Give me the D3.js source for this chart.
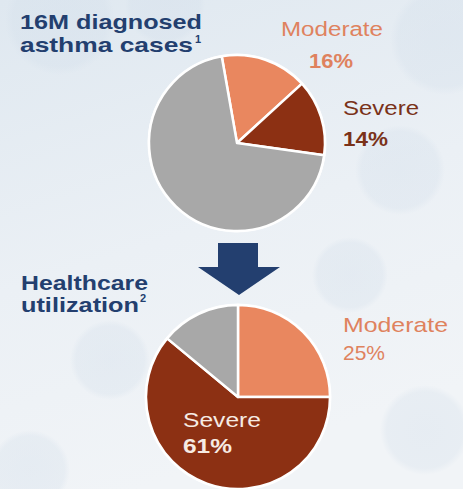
<!DOCTYPE html>
<html>
<head>
<meta charset="utf-8">
<script src="https://cdn.jsdelivr.net/npm/d3@7"></script>
<style>
  html, body { margin: 0; padding: 0; background: #eaf0f5; }
  #chart { width: 463px; height: 489px; overflow: hidden; }
  text { font-family: "Liberation Sans", Arial, sans-serif; }
</style>
</head>
<body>
<div id="chart"></div>
<script>
// severity groups, in the order they are drawn clockwise
const segments = ["Moderate", "Severe", "Mild"];
const diagnosedShares = [16, 14, 70];     // 16M diagnosed asthma cases
const utilizationShares = [25, 61, 14];   // healthcare utilization
const titleTop = ["16M diagnosed", "asthma cases"];
const titleBottom = ["Healthcare", "utilization"];

const width = 463,
  height = 489;

const color = d3.scaleOrdinal()
  .domain(segments)
  .range(["#e9875f", "#8c3013", "#a8a8a8"]);

const labelColor = d3.scaleOrdinal()
  .domain(segments)
  .range(["#df825e", "#7a3219", "#777"]);

const svg = d3.select("#chart")
  .append("svg")
  .attr("width", width)
  .attr("height", height)
  .attr("viewBox", [0, 0, width, height]);

// background wash + faint bubbles
const defs = svg.append("defs");
const bg = defs.append("linearGradient")
  .attr("id", "bg")
  .attr("x1", 0).attr("y1", 0).attr("x2", 0.3).attr("y2", 1);
bg.append("stop").attr("offset", "0%").attr("stop-color", "#dfe8f0");
bg.append("stop").attr("offset", "55%").attr("stop-color", "#ebf0f5");
bg.append("stop").attr("offset", "100%").attr("stop-color", "#f1f4f7");

const bub = defs.append("radialGradient").attr("id", "bub");
bub.append("stop").attr("offset", "0%").attr("stop-color", "#d2deea").attr("stop-opacity", 0.35);
bub.append("stop").attr("offset", "85%").attr("stop-color", "#d2deea").attr("stop-opacity", 0.3);
bub.append("stop").attr("offset", "100%").attr("stop-color", "#d2deea").attr("stop-opacity", 0);

svg.append("rect")
  .attr("width", width)
  .attr("height", height)
  .attr("fill", "url(#bg)");

const bubbles = [[60, 20, 55], [165, 5, 40], [445, 40, 55], [400, 170, 45], [110, 360, 40], [350, 275, 38], [425, 430, 45], [30, 470, 40]];
svg.append("g")
  .selectAll("circle")
  .data(bubbles)
  .join("circle")
  .attr("cx", d => d[0])
  .attr("cy", d => d[1])
  .attr("r", d => d[2])
  .attr("fill", "url(#bub)");

const pie = d3.pie().sort(null).value(d => d.value);

function drawPie(values, cx, cy, r, start) {
  const data = segments.map((s, i) => ({ name: s, value: values[i] }));
  const arcs = pie
    .startAngle(start * Math.PI / 180)
    .endAngle((start + 360) * Math.PI / 180)(data);
  const arc = d3.arc().innerRadius(0).outerRadius(r);

  const g = svg.append("g").attr("transform", `translate(${cx},${cy})`);
  g.append("circle")
    .attr("r", r + 1.5)
    .attr("fill", "#fff")
    .attr("opacity", 0.8);
  g.selectAll("path")
    .data(arcs)
    .join("path")
    .attr("d", arc)
    .attr("fill", d => color(d.data.name))
    .attr("stroke", "#fff")
    .attr("stroke-width", 2.5)
    .attr("stroke-linejoin", "round");
  return g;
}

function label(x, y, str, fill, size, bold, len) {
  const t = svg.append("text")
    .attr("x", x)
    .attr("y", y)
    .attr("fill", fill)
    .attr("font-size", size)
    .attr("font-weight", bold ? "bold" : "normal")
    .text(str);
  if (len) t.attr("textLength", len).attr("lengthAdjust", "spacingAndGlyphs");
  return t;
}

const navy = "#233f6f";

// top pie: diagnosed cases
drawPie(diagnosedShares, 237, 143, 88, -10);

label(20, 29, titleTop[0], navy, 21, true, 182);
label(20, 52, titleTop[1], navy, 21, true, 173);
svg.append("text").attr("x", 195).attr("y", 43).attr("fill", navy)
  .attr("font-size", 11).attr("font-weight", "bold").text("1");

label(281, 36, segments[0], labelColor("Moderate"), 20, false, 102);
label(309, 68, diagnosedShares[0] + "%", labelColor("Moderate"), 20, true, 44);
label(343, 115, segments[1], labelColor("Severe"), 20, false, 76);
label(343, 146, diagnosedShares[1] + "%", labelColor("Severe"), 20, true, 45);

// arrow
const arrow = d3.path();
arrow.moveTo(218, 243);
arrow.lineTo(258, 243);
arrow.lineTo(258, 267);
arrow.lineTo(280, 267);
arrow.lineTo(239, 295);
arrow.lineTo(198, 267);
arrow.lineTo(218, 267);
arrow.closePath();
svg.append("path").attr("d", arrow.toString()).attr("fill", navy);

// bottom pie: healthcare utilization
drawPie(utilizationShares, 238, 397, 92, 0);

label(21, 290, titleBottom[0], navy, 20, true, 127);
label(21, 312, titleBottom[1], navy, 20, true, 118);
svg.append("text").attr("x", 140).attr("y", 302).attr("fill", navy)
  .attr("font-size", 11).attr("font-weight", "bold").text("2");

label(343, 332, segments[0], labelColor("Moderate"), 21, false, 105);
label(343, 360, utilizationShares[0] + "%", labelColor("Moderate"), 21, false, 42);
label(183, 427, segments[1], "#f6ebe3", 21, false, 78);
label(183, 453, utilizationShares[1] + "%", "#f6ebe3", 21, true, 49);
</script>
</body>
</html>
